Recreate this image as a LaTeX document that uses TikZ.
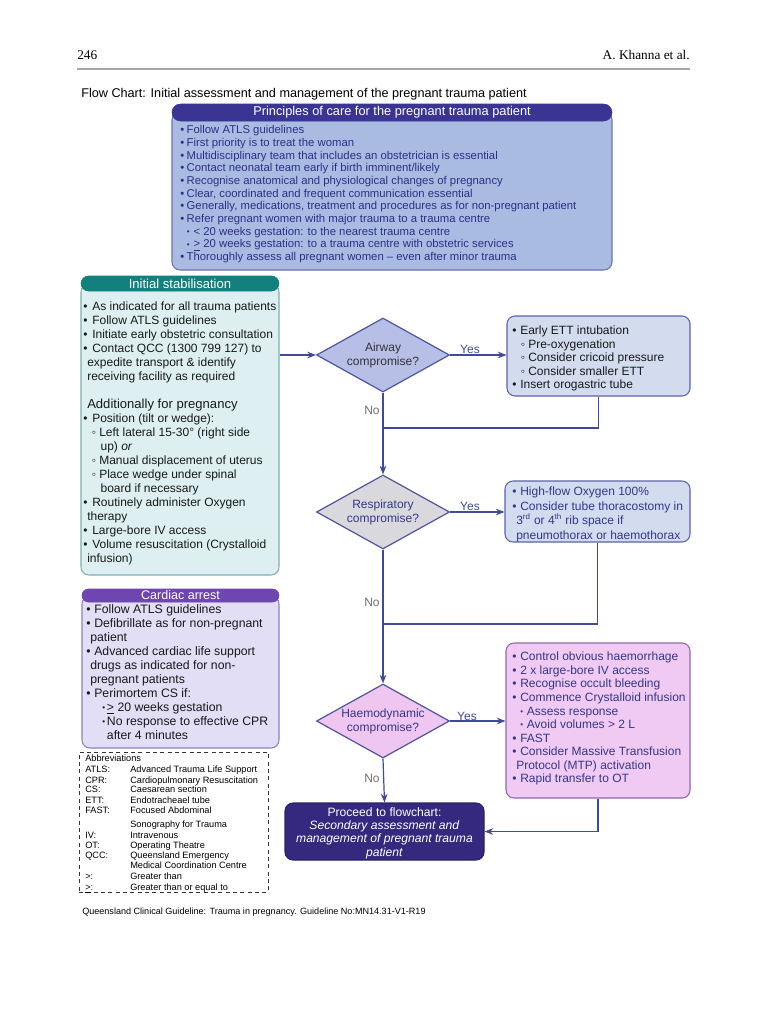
\documentclass[tikz,border=0pt]{standalone}
\usepackage{fontspec}
\setmainfont{Liberation Sans}
\newfontfamily\seriffont{Liberation Serif}
\usetikzlibrary{shapes.geometric,arrows.meta}
\definecolor{lineblue}{HTML}{3F4A9A}
\definecolor{phead}{HTML}{3A3492}
\definecolor{pbody}{HTML}{AABBE2}
\definecolor{pborder}{HTML}{6A74B0}
\definecolor{ptext}{HTML}{2C2F88}
\definecolor{shead}{HTML}{12807C}
\definecolor{sbody}{HTML}{DDEFF0}
\definecolor{sborder}{HTML}{7FAFB0}
\definecolor{chead}{HTML}{6F46B0}
\definecolor{cbody}{HTML}{E2DEF6}
\definecolor{cborder}{HTML}{8C80C6}
\definecolor{dAfill}{HTML}{B8BFE6}
\definecolor{dRfill}{HTML}{D9D9DD}
\definecolor{dHfill}{HTML}{EEC6EF}
\definecolor{dborder}{HTML}{4E549E}
\definecolor{abfill}{HTML}{D3DBEF}
\definecolor{abborder}{HTML}{5C63A6}
\definecolor{hbfill}{HTML}{F0CAF2}
\definecolor{hborder}{HTML}{8F68AC}
\definecolor{procfill}{HTML}{34297F}
\definecolor{nogray}{HTML}{707070}
\definecolor{dtext}{HTML}{33388A}
\newlength\buw
\newcommand\bul{\makebox[\buw][l]{•}}
\newcommand\cont{\hspace*{3pt}}
\newcommand\subc{\hspace*{6.5pt}\makebox[5.5pt][l]{◦}}
\newcommand\subcc{\hspace*{13pt}}
\newcommand\sbul[2]{\hspace*{#1}\makebox[#2][l]{\raisebox{0.6pt}{\fontsize{6}{6}\selectfont•}}}
\newcommand\uge{\underline{>}}
\begin{document}
\begin{tikzpicture}[x=0.75pt,y=-0.75pt,
  every node/.style={inner sep=0pt},
  ln/.style={draw=lineblue,line width=0.9pt},
  arr/.style={ln,-{Stealth[length=6.5pt,width=5pt]}},
  body/.style={rectangle,rounded corners=6pt,line width=0.8pt},
  bar/.style={rectangle,text=white,font=\fontsize{9.6}{10}\selectfont},
  txt/.style={anchor=north west,align=left},
  dia/.style={diamond,draw=dborder,line width=0.9pt,minimum width=99.75pt,minimum height=55.5pt},
  diatxt/.style={align=center,font=\fontsize{9}{10.9}\selectfont},
  yes/.style={text=lineblue,font=\fontsize{9}{10}\selectfont},
  no/.style={text=nogray,font=\fontsize{9}{10}\selectfont},
  abb/.style={anchor=base west,font=\fontsize{6.9}{8}\selectfont},
  bbox/.style={body,fill=abfill,draw=abborder}
]
\useasboundingbox[fill=white] (0,0) rectangle (768,1024);

% page header
\node[anchor=base west,font=\seriffont\fontsize{10}{12}\selectfont] (pg) at (77,60) {246};
\node[anchor=base east,font=\seriffont\fontsize{10}{12}\selectfont] (au) at (690,60) {A. Khanna et al.};
\coordinate (rl) at (77,69); \coordinate (rr) at (690,69);
\draw[gray!70,line width=0.8pt] (rl) -- (rr);
\node[anchor=base west,font=\fontsize{9.5}{11}\selectfont] (title) at (81,98) {Flow Chart: Initial assessment and management of the pregnant trauma patient};

% principles
\node[body,fill=pbody,draw=pborder,minimum width=330pt,minimum height=118.5pt] (pBody) at (392,191) {};
\node[bar,fill=phead,draw=phead,minimum width=330pt,minimum height=12.75pt,rounded corners=6.3pt] (pHead) at (392,112.5) {Principles of care for the pregnant trauma patient};
\node[txt,text=ptext,font={\fontsize{8.5}{9.525}\selectfont\setlength\buw{4.8pt}}] (pTxt) at (180,124.5) {\strut\bul Follow ATLS guidelines\\
\bul First priority is to treat the woman\\
\bul Multidisciplinary team that includes an obstetrician is essential\\
\bul Contact neonatal team early if birth imminent/likely\\
\bul Recognise anatomical and physiological changes of pregnancy\\
\bul Clear, coordinated and frequent communication essential\\
\bul Generally, medications, treatment and procedures as for non-pregnant patient\\
\bul Refer pregnant women with major trauma to a trauma centre\\
\sbul{5pt}{5pt}< 20 weeks gestation: to the nearest trauma centre\\
\sbul{5pt}{5pt}\uge{} 20 weeks gestation: to a trauma centre with obstetric services\\
\bul Thoroughly assess all pregnant women -- even after minor trauma};

% initial stabilisation
\node[body,fill=sbody,draw=sborder,minimum width=148.5pt,minimum height=218.25pt] (sBody) at (180,429.5) {};
\node[bar,fill=shead,draw=shead,minimum width=148.5pt,minimum height=11.25pt,rounded corners=5.6pt,font=\fontsize{9.8}{10}\selectfont] (sHead) at (180,283.5) {Initial stabilisation};
\node[txt,text=black!90,font={\fontsize{9}{10.5}\selectfont\setlength\buw{6.75pt}}] (sTxt) at (83,300.8) {\strut\bul As indicated for all trauma patients\\
\bul Follow ATLS guidelines\\
\bul Initiate early obstetric consultation\\
\bul Contact QCC (1300 799 127) to\\
\cont expedite transport \& identify\\
\cont receiving facility as required\\
\mbox{}\\
\cont{\fontsize{9.8}{10.5}\selectfont Additionally for pregnancy}\\
\bul Position (tilt or wedge):\\
\subc Left lateral 15-30° (right side\\
\subcc up) \textit{or}\\
\subc Manual displacement of uterus\\
\subc Place wedge under spinal\\
\subcc board if necessary\\
\bul Routinely administer Oxygen\\
\cont therapy\\
\bul Large-bore IV access\\
\bul Volume resuscitation (Crystalloid\\
\cont infusion)};

% cardiac arrest
\node[body,fill=cbody,draw=cborder,minimum width=147.75pt,minimum height=114pt] (cBody) at (180.5,672) {};
\node[bar,fill=chead,draw=chead,minimum width=147.75pt,minimum height=9.75pt,rounded corners=4.8pt,font=\fontsize{9.4}{10}\selectfont] (cHead) at (180.5,595.5) {Cardiac arrest};
\node[txt,text=black!90,font={\fontsize{9.2}{10.45}\selectfont\setlength\buw{6pt}}] (cTxt) at (86,603.8) {\strut\bul Follow ATLS guidelines\\
\bul Defibrillate as for non-pregnant\\
\cont patient\\
\bul Advanced cardiac life support\\
\cont drugs as indicated for non-\\
\cont pregnant patients\\
\bul Perimortem CS if:\\
\sbul{12pt}{3.5pt}\uge{} 20 weeks gestation\\
\sbul{12pt}{3.5pt}No response to effective CPR\\
\hspace*{15.5pt}after 4 minutes};

% abbreviations
\node[draw=black!80,dashed,dash pattern=on 3pt off 2.5pt,line width=0.6pt,rectangle,minimum width=141.75pt,minimum height=105pt] (abBox) at (173.5,822) {};
\node[abb] (abTitle) at (85,761) {Abbreviations};
\foreach \yy/\aa/\bb [count=\i] in {772/ATLS:/Advanced Trauma Life Support,
 783/CPR:/Cardiopulmonary Resuscitation,
 792/CS:/Caesarean section,
 803/ETT:/Endotracheael tube,
 813/FAST:/Focused Abdominal,
 827//Sonography for Trauma,
 838/IV:/Intravenous,
 848/OT:/Operating Theatre,
 858/QCC:/Queensland Emergency,
 868//Medical Coordination Centre,
 879/{>:}/Greater than,
 890/{\uge:}/Greater than or equal to}
{\node[abb] (abA\i) at (85,\yy) {\aa};
 \node[abb] (abB\i) at (130,\yy) {\bb};}

\node[anchor=base west,font=\fontsize{6.8}{8}\selectfont] (foot) at (82,914) {Queensland Clinical Guideline: Trauma in pregnancy. Guideline No:MN14.31-V1-R19};

% diamonds
\node[dia,fill=dAfill] (dA) at (383,355) {};
\node[diatxt,text=black!80] (dAt) at (383,355.5) {Airway\\compromise?};
\node[dia,fill=dRfill] (dR) at (383,512) {};
\node[diatxt,text=dtext] (dRt) at (383,512.5) {Respiratory\\compromise?};
\node[dia,fill=dHfill] (dH) at (383,721) {};
\node[diatxt,text=dtext] (dHt) at (383,721.5) {Haemodynamic\\compromise?};

% right boxes
\node[bbox,minimum width=137.25pt,minimum height=60pt] (aBox) at (598.5,356) {};
\node[txt,text=black!90,font={\fontsize{9}{10.125}\selectfont\setlength\buw{6pt}}] (aTxt) at (512,325.2) {\strut\bul Early ETT intubation\\
\subc Pre-oxygenation\\
\subc Consider cricoid pressure\\
\subc Consider smaller ETT\\
\bul Insert orogastric tube};

\node[bbox,minimum width=138.75pt,minimum height=45.75pt] (rBox) at (597.5,511.5) {};
\node[txt,text=dtext,font={\fontsize{9}{10.8}\selectfont\setlength\buw{6pt}}] (rTxt) at (512,485.5) {\strut\bul High-flow Oxygen 100\%\\
\bul Consider tube thoracostomy in\\
\cont 3\textsuperscript{rd} or 4\textsuperscript{th} rib space if\\
\cont pneumothorax or haemothorax};

\node[body,fill=hbfill,draw=hborder,minimum width=138pt,minimum height=116.25pt] (hBox) at (598,720.5) {};
\node[txt,text=dtext,font={\fontsize{9}{10.17}\selectfont\setlength\buw{6pt}}] (hTxt) at (512,651.1) {\strut\bul Control obvious haemorrhage\\
\bul 2 x large-bore IV access\\
\bul Recognise occult bleeding\\
\bul Commence Crystalloid infusion\\
\sbul{6pt}{5pt}Assess response\\
\sbul{6pt}{5pt}Avoid volumes > 2 L\\
\bul FAST\\
\bul Consider Massive Transfusion\\
\cont Protocol (MTP) activation\\
\bul Rapid transfer to OT};

% proceed
\node[body,fill=procfill,draw=procfill!80!black,minimum width=149.25pt,minimum height=42.75pt] (proc) at (384.5,831.5) {};
\node[align=center,text=white,font=\fontsize{9.1}{10}\selectfont] (procT) at (384.5,833) {Proceed to flowchart:\\
\textit{Secondary assessment and}\\
\textit{management of pregnant trauma}\\
\textit{patient}};

% connectors
\draw[arr] (sBody.east |- dA.west) -- (dA.west);
\draw[arr] (dA.east) -- (aBox.west |- dA.east);
\node[yes] (y1) at (470,349) {Yes};
\draw[arr] (dA.south) -- (dR.north);
\node[no] (n1) at (372,410) {No};
\coordinate (m1) at (383,428);
\draw[ln] (aBox.south) |- (m1);
\draw[arr] (dR.east) -- (rBox.west |- dR.east);
\node[yes] (y2) at (470,506) {Yes};
\draw[arr] (dR.south) -- (dH.north);
\node[no] (n2) at (372,602) {No};
\coordinate (m2) at (383,624);
\draw[ln] (rBox.south) |- (m2);
\draw[arr] (dH.east) -- (hBox.west |- dH.east);
\node[yes] (y3) at (467,716) {Yes};
\draw[arr] (dH.south) -- (proc.north);
\node[no] (n3) at (372,778) {No};
\draw[arr] (hBox.south) |- (proc.east);
\end{tikzpicture}
\end{document}
